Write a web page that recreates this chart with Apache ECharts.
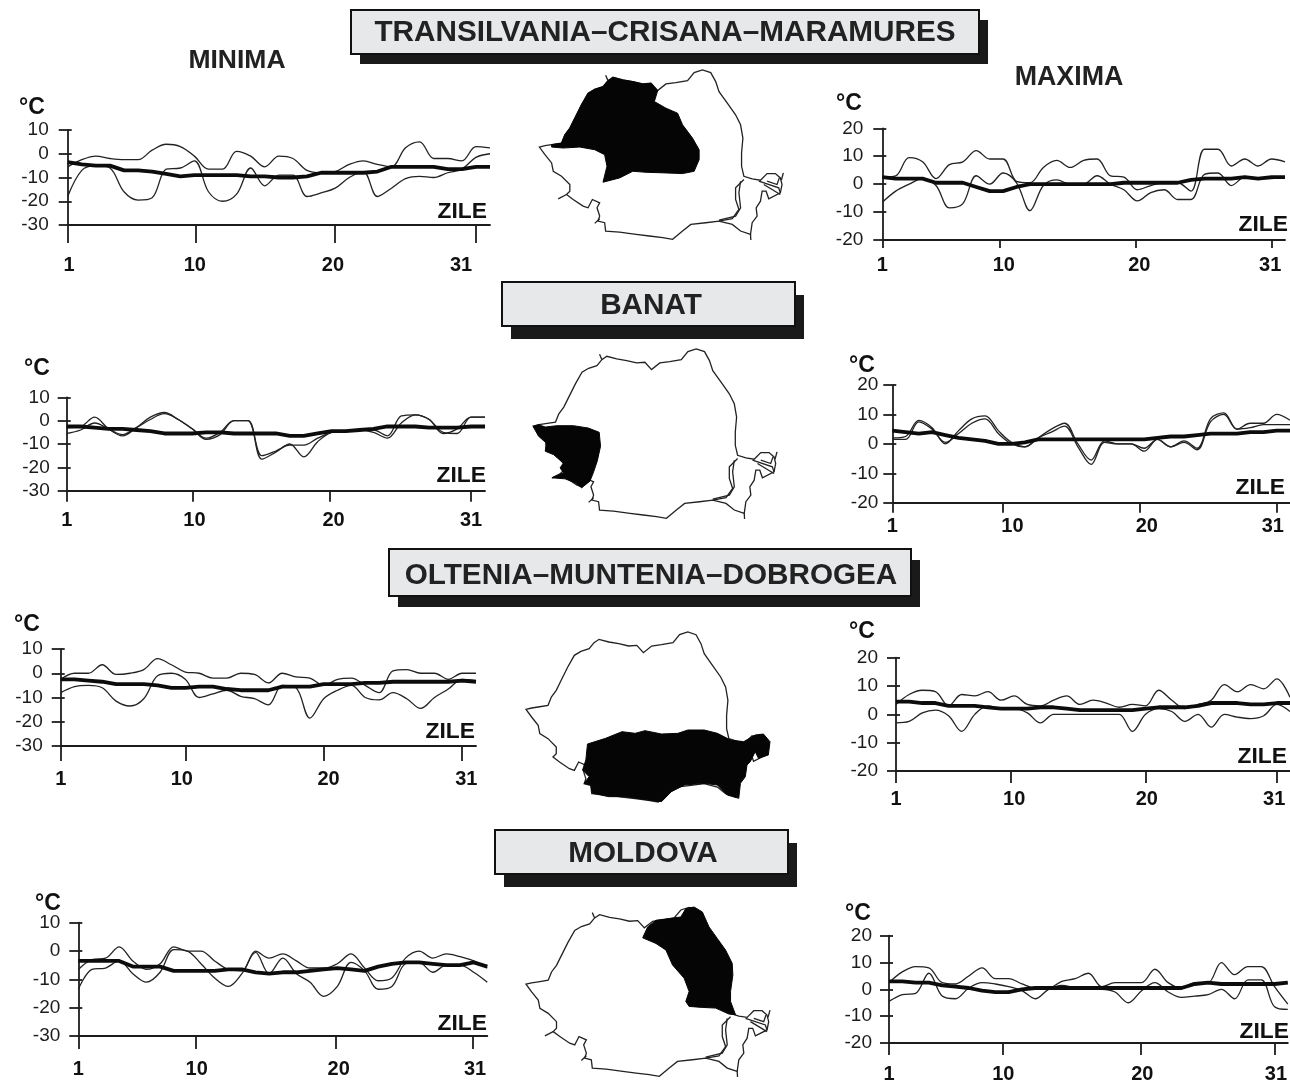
<!DOCTYPE html>
<html><head><meta charset="utf-8">
<style>html,body{margin:0;padding:0;background:#fff}#c{width:1290px;height:1084px}</style>
<script src="https://cdn.jsdelivr.net/npm/echarts@6/dist/echarts.min.js"></script>
</head><body><div id="c"></div>
<script>
// ---------- tick labels ----------
const xTickLabels = ['1','10','20','31'];
const minY = [-30,10], maxY = [-20,20];

// ---------- series values (day 1 .. 31) ----------
const trMinUpper = [-5.5,-2.5,-1,-2,-2.5,-2.5,1.5,4,3,-1,-6.5,-6.5,1,-1,-5.5,-1,-2,-7,-8,-7.5,-4.5,-3,-4.5,-5.5,2.5,5,-2,-2,-3,3,2.5];
const trMinLower = [-18,-7,-5,-6,-16,-19.5,-18.5,-6.5,-6,-3,-16,-20,-17,-6,-13.5,-9,-9,-18,-16.5,-14.5,-10,-7.5,-18,-14.5,-10.5,-9.5,-10,-8,-6.5,-1.5,0];
const trMinMean  = [-3.5,-4.5,-5,-5,-7,-7,-7.5,-8.5,-9.5,-9,-9,-9,-9,-9.5,-9.5,-10,-10,-9.5,-8,-8,-8,-8,-7.5,-5.5,-5.5,-5.5,-5.5,-6.5,-6.5,-5.5,-5.5];

const trMaxUpper = [2.5,3,9.5,8,2,7,8,12,9,9,1,0.5,6,8.5,6,8.5,9,3,2.5,-2,-0.5,0.5,0.5,-2.5,12.5,12.5,6.5,9,6.5,9,8];
const trMaxLower = [-6.5,-2.5,0,2,-0.5,-8.5,-7,3,0,4,0.5,-9.5,-0.5,1.5,0,0,3,0,-2,-6,-3,-2,-5.5,-5.5,3.5,4,-0.5,2.5,2,2,2.5];
const trMaxMean  = [2.5,2,2,2,0.5,0.5,0.5,-1,-2.5,-2.5,-1,0,0,0,0,0,0,0,0.5,0.5,0.5,0.5,0.5,1.5,2,2,2,2.5,2,2.5,2.5];

const baMinUpper = [-3,-2.5,1.5,-3.5,-6.5,-3,1.5,3.5,0.5,-3.5,-7.5,-5,0,0,-15,-13,-10.5,-10.5,-7.5,-5,-4.5,-4,-4,-6.5,2,2.5,0.5,-5.5,-3.5,1.5,1.5];
const baMinLower = [-5.5,-4,-1,-3.5,-6,-3,0.5,3,0.5,-3.5,-8,-6,0,0,-16.5,-13.5,-10,-15.5,-9,-5,-4.5,-4,-5,-7.5,-1,2.5,0.5,-5,-5.5,1.5,1.5];
const baMinMean  = [-2.5,-2.5,-3,-3.5,-3.5,-4,-4.5,-5.5,-5.5,-5.5,-5,-5,-5.5,-5.5,-5.5,-5.5,-6.5,-6.5,-5.5,-4.5,-4.5,-4,-3.5,-2.5,-2.5,-2.5,-3,-3,-3,-2.5,-2.5];

const baMaxUpper = [2,2.5,8,5.5,0,4.5,8.5,9.5,4.5,0.5,-1,2,5,7,0,-5.5,1,0,0,-1.5,1.5,-1,1,-1.5,8.5,10.5,5,7,7,10,8];
const baMaxLower = [1.5,1.5,7.5,5,0.5,3.5,7,8.5,3.5,0,-1,2,4,6,-1,-7,0.5,0,0,-2.5,1.5,-1,0.5,-2,7.5,10,5,5.5,6.5,6.5,6.5];
const baMaxMean  = [4.5,4,3.5,4,3,2,1.5,1,0,0,0.5,1.5,1.5,1.5,1.5,1.5,1.5,1.5,1.5,1.5,2,2.5,2.5,3,3.5,3.5,3.5,4,4,4.5,4.5];

const olMinUpper = [-2.5,0,0,3.5,-0.5,0,1.5,6,3.5,0.5,0,-2,-2,0,-0.5,-4,0,-1.5,-2,-5,-2.5,-2,-5,-8,1,1.5,0,0,-2.5,0,0];
const olMinLower = [-8,-5.5,-5,-6,-11.5,-13.5,-10.5,-1,0,-2.5,-10,-8.5,-7,-9.5,-10.5,-13,-5,-6,-18.5,-10.5,-7,-5,-10,-11,-8,-10.5,-14.5,-10,-6.5,-2.5,-3];
const olMinMean  = [-2.5,-2.5,-3,-3.5,-4.5,-4.5,-4.5,-5,-6,-6,-5.5,-5.5,-6.5,-7,-7,-7,-5.5,-5.5,-5.5,-4.5,-4.5,-4.5,-4,-4,-3.5,-3.5,-3.5,-3.5,-3.5,-3,-3.5];

const olMaxUpper = [3.5,7,8.5,8,3,7,6.5,8,5,6.5,3.5,3,5,6.5,3.5,5,4,2.5,3.5,3,8.5,5,2,3.5,5,10.5,8,10.5,9,12.5,6];
const olMaxLower = [-3,-2.5,0.5,1.5,-0.5,-6,0,3,2,2,0.5,-3,0,0,0,0,0,0,-6,0,2,1,-2.5,0,-4.5,0,-1,-1.5,-0.5,3.5,1];
const olMaxMean  = [4.5,4.5,4,4,3,3,3,2.5,2,2,2,2.5,2.5,2,1.5,1.5,1.5,1.5,1.5,2,2.5,2.5,2.5,3,4,4,4,3.5,3.5,4,4];

const moMinUpper = [-6.5,-3,-2.5,1.5,-3.5,-6.5,-4.5,1.5,0,0,-3.5,-6.5,-7,0,-2.5,-1,-3.5,-6,-6,-4.5,-1,-6,-10.5,-9.5,-2.5,0,-2.5,-1,-2,-3.5,-6];
const moMinLower = [-13.5,-6.5,-6,-3.5,-8,-11,-7.5,0.5,0,-4.5,-9.5,-12.5,-8,-0.5,-8,-2.5,-8,-11,-16,-12.5,-4,-7,-13.5,-12.5,-4.5,-4,-7.5,-5,-5,-7.5,-11];
const moMinMean  = [-3.5,-3.5,-3.5,-3.5,-5.5,-5.5,-5.5,-7,-7,-7,-7,-6.5,-6.5,-7.5,-8,-7.5,-7.5,-7,-6.5,-6,-6.5,-7,-5.5,-4.5,-4,-4,-4.5,-5,-5,-4,-5.5];

const moMaxUpper = [2.5,6.5,8.5,8,2.5,2,5,8,4,4,2,0.5,0.5,3,4,6,1,2.5,2.5,2.5,7.5,2.5,0.5,2.5,2.5,10,5.5,8.5,8.5,1,-5.5];
const moMaxLower = [-4.5,-2,-1.5,6,-2.5,-3.5,0.5,2.5,2,1,-0.5,-3.5,0,1.5,0.5,0,0,-1,-5,-0.5,2.5,-1,-3,-2.5,-2,0,-3.5,3.5,3.5,-6.5,-7.5];
const moMaxMean  = [3,3,2.5,2.5,1.5,1,0.5,-0.5,-1,-1,0,0.5,0.5,0.5,0.5,0.5,0.5,0.5,0.5,0.5,0.5,0.5,0.5,2,2.5,2,2,2,2,2,2.5];

// ---------- map outlines ----------
const outlineRing = [[58,262],[75,258],[95,255],[125,250],[135,225],[150,205],[165,175],[185,135],[205,100],[225,88],[250,80],[265,62],[280,52],[310,60],[340,65],[370,72],[395,70],[415,92],[440,72],[470,68],[505,62],[525,38],[550,30],[575,38],[590,65],[600,95],[625,130],[650,165],[665,195],[672,235],[668,280],[668,320],[675,350],[700,358],[725,362],[745,342],[770,342],[785,355],[790,375],[785,400],[750,418],[742,395],[730,395],[725,425],[712,445],[715,470],[700,490],[695,525],[665,515],[640,495],[600,485],[560,490],[515,495],[490,515],[460,540],[430,535],[390,530],[350,525],[300,518],[258,515],[255,490],[235,485],[240,470],[232,445],[240,430],[218,420],[205,445],[190,440],[160,420],[140,405],[150,395],[150,375],[125,350],[100,335],[95,310],[75,285]];
const waterLines = [
  [[258,46],[265,62]],[[115,418],[140,405]],[[225,492],[240,478]],[[794,340],[788,362]],[[696,542],[695,525]],
  [[675,360],[650,385],[650,420],[660,450],[640,478],[600,485]],
  [[665,365],[660,400],[665,445],[650,470],[600,482]],
  [[720,365],[780,385],[785,400]],[[745,365],[775,375],[782,355]],[[735,375],[785,405]]
];
const transilvaniaRing = [[95,262],[95,255],[125,250],[135,225],[150,205],[165,175],[185,135],[205,100],[225,88],[250,80],[265,62],[280,52],[310,60],[340,65],[370,72],[395,70],[415,92],[405,125],[440,145],[475,160],[490,195],[520,235],[540,270],[540,300],[525,335],[490,342],[440,340],[380,338],[340,335],[300,355],[250,368],[262,320],[255,285],[225,270],[180,262],[130,265]];
const banatRing = [[57,263],[74,258],[94,265],[129,261],[179,261],[224,268],[257,281],[261,323],[251,368],[239,403],[229,428],[204,448],[184,433],[154,421],[114,418],[149,403],[139,388],[149,373],[119,348],[94,338],[97,313],[74,293]];
const sudRing = [[245,366],[300,349],[350,329],[390,334],[420,326],[470,336],[520,334],[550,324],[600,324],[640,334],[680,354],[720,359],[755,339],[780,336],[800,359],[795,399],[765,409],[755,389],[740,419],[730,429],[725,464],[710,484],[705,529],[670,519],[640,489],[600,484],[540,489],[500,509],[470,539],[430,534],[360,524],[310,524],[260,514],[255,489],[235,484],[250,464],[230,444],[240,414]];
const moldovaRing = [[410,122],[425,89],[450,69],[490,64],[525,59],[540,34],[565,29],[590,44],[610,89],[635,124],[660,159],[680,199],[682,234],[675,284],[675,314],[690,354],[670,352],[630,334],[590,332],[550,329],[540,314],[550,284],[535,244],[500,204],[480,159],[450,139]];

// ---------- layout of each panel (pixels on the page) ----------
const panels = [
 {s:[trMinUpper,trMinLower,trMinMean],y:minY,l:67.7,r:490,t:130,b:225,tick:[1,10.08,20,30],lab:[1.1,10.03,19.84,28.94],tl:18,lm:30,ym:19,c:[32,108],z:[487,212]},
 {s:[trMaxUpper,trMaxLower,trMaxMean],y:maxY,l:882.3,r:1285,t:128.3,b:240,tick:[1,9.75,19.9,30],lab:[1,10.05,20.15,29.9],tl:8,lm:15,ym:19,c:[849,104],z:[1288,225]},
 {s:[baMinUpper,baMinLower,baMinMean],y:minY,l:66.7,r:485,t:397.3,b:490.7,tick:[1,10.04,19.9,30],lab:[1,10.16,20.14,30],tl:11,lm:20,ym:17,c:[37,369],z:[486,476]},
 {s:[baMaxUpper,baMaxLower,baMaxMean],y:maxY,l:892.3,r:1290,t:385,b:502.7,tick:[1,9.3,19.7,30],lab:[1,10.06,20.2,29.7],tl:10,lm:14,ym:14,c:[862,366],z:[1285,488]},
 {s:[olMinUpper,olMinLower,olMinMean],y:minY,l:60.7,r:476,t:649,b:746,tick:[1,10,20,30],lab:[1,9.75,20.35,30.3],tl:15,lm:23,ym:18,c:[27,625],z:[475,732]},
 {s:[olMaxUpper,olMaxLower,olMaxMean],y:maxY,l:896,r:1290,t:657.7,b:771,tick:[1,9.7,20,30],lab:[1,10,20.1,29.8],tl:12,lm:18,ym:18,c:[862,632],z:[1287,757]},
 {s:[moMinUpper,moMinLower,moMinMean],y:minY,l:78.3,r:487.3,t:922.7,b:1036,tick:[1,9.6,19.9,29.9],lab:[1,9.68,20.1,30.1],tl:13,lm:23,ym:18,c:[48,904],z:[487,1024]},
 {s:[moMaxUpper,moMaxLower,moMaxMean],y:maxY,l:889,r:1288.3,t:935.7,b:1046.7,tick:[1,9.57,19.9,30],lab:[1,9.6,20.05,30.1],tl:12,lm:21,ym:17,c:[858,914],z:[1289,1032]}
];
const banners = [
 {text:'TRANSILVANIA–CRISANA–MARAMURES',x:351,y:10,w:628,h:44,sx:9,sy:10,tx:665,ty:33},
 {text:'BANAT',x:502,y:282,w:293,h:44,sx:9,sy:13,tx:651,ty:306},
 {text:'OLTENIA–MUNTENIA–DOBROGEA',x:389,y:549,w:522,h:47,sx:9,sy:11,tx:651,ty:576},
 {text:'MOLDOVA',x:495,y:830,w:293,h:44,sx:9,sy:13,tx:643,ty:854}
];
const maps = [
 {name:'ro1',ring:transilvaniaRing,ox:520,oy:60,lines:true},
 {name:'ro2',ring:banatRing,ox:513.67,oy:339,lines:true},
 {name:'ro3',ring:sudRing,ox:506.67,oy:622,lines:false},
 {name:'ro4',ring:moldovaRing,ox:506.67,oy:897,lines:true}
];

const FONT = '"Liberation Sans", Arial, sans-serif';
const INK = '#1c1c1c';
const flip = r => { const o = r.map(p=>[p[0],-p[1]]); o.push(o[0]); return o; };
const allX = outlineRing.map(p=>p[0]), allY = outlineRing.map(p=>p[1]);
const minX = Math.min(...allX), maxX = Math.max(...allX), minYm = Math.min(...allY), maxYm = Math.max(...allY);

const geo = maps.map(m=>{
  const features = [{type:'Feature',properties:{name:'Romania'},geometry:{type:'Polygon',coordinates:[flip(outlineRing)]}}];
  if (m.lines) waterLines.forEach((ln,i)=>features.push({type:'Feature',properties:{name:'w'+i},geometry:{type:'LineString',coordinates:ln.map(p=>[p[0],-p[1]])}}));
  features.push({type:'Feature',properties:{name:'regiune'},geometry:{type:'Polygon',coordinates:[flip(m.ring)]}});
  echarts.registerMap(m.name,{type:'FeatureCollection',features});
  return {map:m.name,aspectScale:1,roam:false,silent:true,
    left:m.ox+minX/3,top:m.oy+minYm/3,width:(maxX-minX)/3,height:(maxYm-minYm)/3,
    label:{show:false},emphasis:{disabled:true},select:{disabled:true},
    itemStyle:{areaColor:'#fff',borderColor:'#222',borderWidth:1.3},
    regions:[{name:'regiune',itemStyle:{areaColor:'#050505',borderColor:'#050505',borderWidth:1}}]};
});

const grid=[],xAxis=[],yAxis=[],series=[],graphic=[];
banners.forEach(b=>{
  graphic.push({type:'rect',shape:{x:b.x+b.sx,y:b.y+b.sy,width:b.w,height:b.h},style:{fill:'#1a1a1a'},silent:true});
  graphic.push({type:'rect',shape:{x:b.x,y:b.y,width:b.w,height:b.h},style:{fill:'#e6e8ea',stroke:'#111',lineWidth:2},silent:true});
  graphic.push({type:'text',x:b.tx,y:b.ty,silent:true,style:{text:b.text,font:'bold 29.7px '+FONT,fill:'#222',align:'center',verticalAlign:'middle'}});
});
graphic.push({type:'text',x:237,y:61,silent:true,style:{text:'MINIMA',font:'bold 26.5px '+FONT,fill:'#222',align:'center',verticalAlign:'middle'}});
graphic.push({type:'text',x:1069,y:78,silent:true,style:{text:'MAXIMA',font:'bold 26.8px '+FONT,fill:'#222',align:'center',verticalAlign:'middle'}});

panels.forEach((p,i)=>{
  grid.push({left:p.l,top:p.t,width:p.r-p.l,height:p.b-p.t,containLabel:false});
  xAxis.push({gridIndex:i,type:'value',min:1,max:31,splitLine:{show:false},
    axisLine:{show:true,onZero:false,lineStyle:{color:INK,width:1.8}},
    axisTick:{show:true,length:p.tl,lineStyle:{color:INK,width:1.8},customValues:p.tick},
    axisLabel:{show:true,margin:p.lm,color:'#111',fontFamily:FONT,fontWeight:'bold',fontSize:20,
      customValues:p.lab,formatter:v=>xTickLabels[p.lab.indexOf(v)]}});
  const yBase={gridIndex:i,type:'value',min:p.y[0],max:p.y[1],interval:10,splitLine:{show:false},position:'left'};
  yAxis.push({...yBase,
    axisLine:{show:true,onZero:false,lineStyle:{color:INK,width:1.8}},
    axisTick:{show:true,length:9,lineStyle:{color:INK,width:1.8}},
    axisLabel:{margin:p.ym,color:INK,fontFamily:FONT,fontSize:19}});
  yAxis.push({...yBase,
    axisLine:{show:false},
    axisTick:{show:true,inside:true,length:4,lineStyle:{color:INK,width:1.8}},
    axisLabel:{show:false}});
  const days = p.s[0].map((_,d)=>d+1);
  p.s.forEach((vals,k)=>{
    const thick = k===2;
    series.push({type:'line',xAxisIndex:i,yAxisIndex:i*2,data:vals.map((v,d)=>[days[d],v]),
      showSymbol:false,symbol:'none',smooth:thick?false:0.35,silent:true,animation:false,clip:false,z:thick?4:3,
      lineStyle:{color:thick?'#0c0c0c':'#222',width:thick?3.8:1.3}});
  });
  graphic.push({type:'text',x:p.c[0],y:p.c[1],silent:true,style:{text:'°C',font:'bold 23px '+FONT,fill:'#111',align:'center',verticalAlign:'middle'}});
  graphic.push({type:'text',x:p.z[0],y:p.z[1],silent:true,style:{text:'ZILE',font:'bold 22.8px '+FONT,fill:'#111',align:'right',verticalAlign:'middle'}});
});

const chart = echarts.init(document.getElementById('c'),null,{renderer:'canvas'});
chart.setOption({animation:false,backgroundColor:'#fff',tooltip:{show:false},geo,grid,xAxis,yAxis,series,graphic});
</script></body></html>
